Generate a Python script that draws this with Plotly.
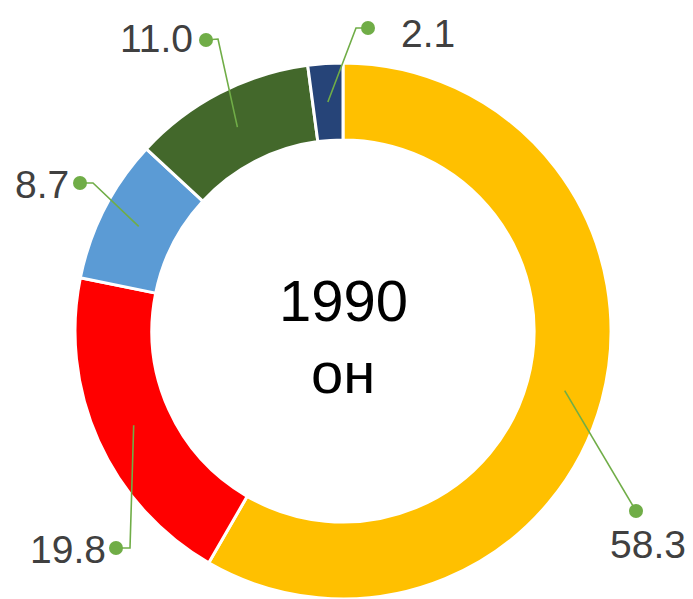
import math
import plotly.graph_objects as go

# ---- data ----
categories = ["A", "B", "C", "D", "E"]
values = [58.3, 19.8, 8.7, 11.0, 2.1]
value_labels = ["58.3", "19.8", "8.7", "11.0", "2.1"]
center_year = "1990"
center_sub = "он"

# ---- styles / layout ----
colors = ["#FFC000", "#FF0000", "#5B9BD5", "#43682B", "#264478"]
W, H = 693, 599
CX, CY, R_OUT, HOLE = 343, 331, 268, 0.713
R_MID = R_OUT * (1 + HOLE) / 2
LEADER = "#70AD47"
LABEL_COLOR = "#404040"
FONT = "Liberation Sans, Arial, sans-serif"
DOT_R = 7

# leader elbows / dots / label positions (pixels), per slice
label_layout = [
    dict(elbow=None, dot=(636, 511), text=(648, 544), anchor="center"),
    dict(elbow=(130, 548), dot=(116, 548), text=(108, 549), anchor="right"),
    dict(elbow=(93, 183), dot=(80, 183), text=(71, 184), anchor="right"),
    dict(elbow=(218, 39), dot=(206, 40), text=(195, 38), anchor="right"),
    dict(elbow=(356, 28), dot=(368, 28), text=(399, 33), anchor="left"),
]

fig = go.Figure()

fig.add_trace(go.Pie(
    labels=categories, values=values, sort=False, direction="clockwise",
    rotation=0, hole=HOLE, textinfo="none", showlegend=False,
    marker=dict(colors=colors, line=dict(color="white", width=3)),
    domain=dict(x=[(CX - R_OUT) / W, (CX + R_OUT) / W],
                y=[1 - (CY + R_OUT) / H, 1 - (CY - R_OUT) / H]),
))
# invisible trace to anchor cartesian axes in pixel units
fig.add_trace(go.Scatter(x=[0, W], y=[0, H], mode="markers",
                         marker=dict(opacity=0), hoverinfo="skip", showlegend=False))

total = sum(values)
cum = 0.0
annotations = []
shapes = []
for v, lab, lay in zip(values, value_labels, label_layout):
    mid = (cum + v / 2) / total
    cum += v
    ang = 2 * math.pi * mid
    ax = CX + R_MID * math.sin(ang)
    ay = CY - R_MID * math.cos(ang)
    pts = [(ax, ay)]
    if lay["elbow"]:
        pts.append(lay["elbow"])
    pts.append(lay["dot"])
    path = "M " + " L ".join(f"{px:.2f},{py:.2f}" for px, py in pts)
    shapes.append(dict(type="path", path=path, xref="x", yref="y", layer="above",
                       line=dict(color=LEADER, width=1.6)))
    dx, dy = lay["dot"]
    shapes.append(dict(type="circle", xref="x", yref="y", layer="above",
                       x0=dx - DOT_R, x1=dx + DOT_R, y0=dy - DOT_R, y1=dy + DOT_R,
                       fillcolor=LEADER, line=dict(width=0)))
    annotations.append(dict(
        x=lay["text"][0], y=lay["text"][1], xref="x", yref="y",
        text=lab, showarrow=False, xanchor=lay["anchor"], yanchor="middle",
        font=dict(family=FONT, size=39, color=LABEL_COLOR)))

annotations.append(dict(x=CX, y=300, xref="x", yref="y", text=center_year,
                        showarrow=False, xanchor="center", yanchor="middle",
                        font=dict(family=FONT, size=58, color="black")))
annotations.append(dict(x=CX, y=372, xref="x", yref="y", text=center_sub,
                        showarrow=False, xanchor="center", yanchor="middle",
                        font=dict(family=FONT, size=58, color="black")))

fig.update_layout(
    width=W, height=H, margin=dict(l=0, r=0, t=0, b=0),
    paper_bgcolor="white", plot_bgcolor="rgba(0,0,0,0)",
    xaxis=dict(range=[0, W], visible=False, domain=[0, 1], fixedrange=True),
    yaxis=dict(range=[H, 0], visible=False, domain=[0, 1], fixedrange=True),
    annotations=annotations, shapes=shapes,
)

fig.write_html("out.html", config={"displayModeBar": False},
               post_script="document.body.style.margin='0';document.body.style.overflow='hidden';")
